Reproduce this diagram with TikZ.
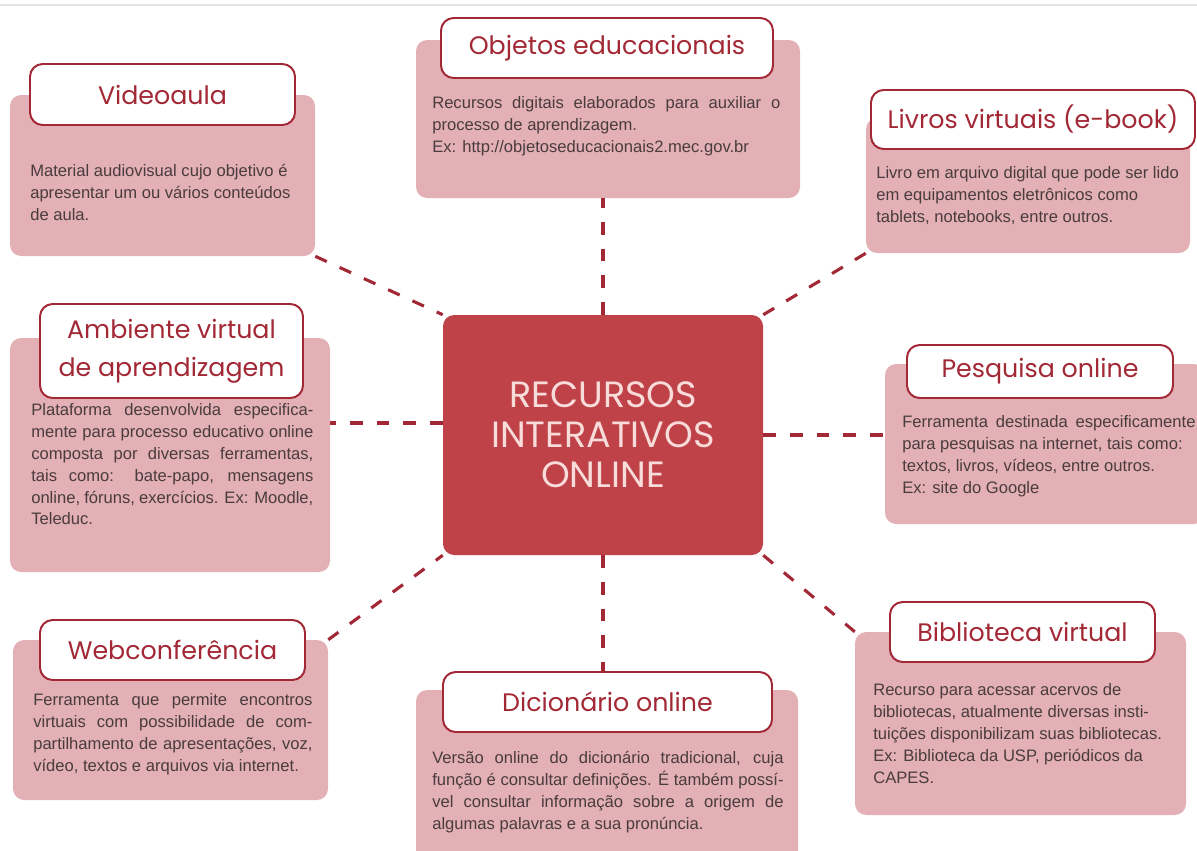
\documentclass[tikz,border=0pt]{standalone}
\usepackage{fontspec}
\setmainfont{Liberation Sans}
\newfontfamily\handfont{Poppins}
\usetikzlibrary{calc, positioning, fit}
\definecolor{cardpink}{HTML}{E2B0B5}
\definecolor{darkred}{HTML}{A32835}
\definecolor{hubred}{HTML}{BF4249}
\definecolor{bodygray}{HTML}{4A3C3E}
\definecolor{hubtext}{HTML}{F8DCDA}
\definecolor{topline}{HTML}{E3E3E3}

\begin{document}
\begin{tikzpicture}
  [x=0.025cm, y=-0.025cm,
   card/.style={rectangle, rounded corners=8pt, fill=cardpink, inner sep=0pt},
   titlebox/.style={rectangle, rounded corners=9pt, draw=darkred, line width=1.4pt,
     fill=white, inner sep=0pt,
     label={[text=darkred, align=center, font=\handfont\fontsize{18}{27}\selectfont]center:#1}},
   blurb/.style={anchor=north west, inner sep=0pt, text=bodygray,
     font=\fontsize{11.8}{15.6}\selectfont},
   hub/.style={rectangle, rounded corners=8pt, fill=hubred, inner sep=0pt,
     label={[text=hubtext, align=center, font=\handfont\fontsize{26}{28.5}\selectfont]center:#1}},
   link/.style={draw=darkred, line width=2.2pt, dash pattern=on 9pt off 10pt}]
  \useasboundingbox (0,0) rectangle (1197,850);
  \fill[white] (0,0) rectangle (1197,850);
  \draw[topline, line width=1pt] (0,5) -- (1197,5);

  % cards %
  \node[card, fit={(10,95) (315,256)}] (vid) {};
  \node[card, fit={(416,40) (800,198)}] (obj) {};
  \node[card, fit={(866,118) (1190,253)}] (liv) {};
  \node[card, fit={(10,338) (330,572)}] (amb) {};
  \node[card, fit={(885,364) (1205,524)}] (pes) {};
  \node[card, fit={(13,640) (328,800)}] (web) {};
  \node[card, fit={(416,690) (798,862)}] (dic) {};
  \node[card, fit={(855,632) (1186,815)}] (bib) {};

  % titles %
  \node[titlebox={Videoaula}, fit={(30,64) (295,125)}] (vidT) {};
  \node[titlebox={Objetos educacionais}, fit={(441,18) (773,78)}] (objT) {};
  \node[titlebox={Livros virtuais (e-book)}, fit={(871,90) (1195,149)}] (livT) {};
  \node[titlebox={Ambiente virtual\\de aprendizagem}, fit={(40,304) (303,398)}] (ambT) {};
  \node[titlebox={Pesquisa online}, fit={(907,345) (1173,398)}] (pesT) {};
  \node[titlebox={Webconferência}, fit={(40,620) (305,680)}] (webT) {};
  \node[titlebox={Dicionário online}, fit={(443,672) (772,732)}] (dicT) {};
  \node[titlebox={Biblioteca virtual}, fit={(890,602) (1155,662)}] (bibT) {};

  % texts %
  \node[blurb, align=left] (vidB) at (30,164)
    {Material audiovisual cujo objetivo é\\apresentar um ou vários conteúdos\\de aula.};
  \node[blurb, text width=8.7cm, align=justify] (objB) at (432,96)
    {Recursos digitais elaborados para auxiliar o\linebreak processo de aprendizagem.\\
     Ex: http://objetoseducacionais2.mec.gov.br};
  \node[blurb, align=left] (livB) at (876,166)
    {Livro em arquivo digital que pode ser lido\\em equipamentos eletrônicos como\\tablets, notebooks, entre outros.};
  \node[blurb, text width=7.05cm, align=justify] (ambB) at (31,403)
    {Plataforma desenvolvida especifica-\linebreak mente para processo educativo online\linebreak
     composta por diversas ferramentas,\linebreak tais como: bate-papo, mensagens\linebreak
     online, fóruns, exercícios. Ex: Moodle,\linebreak Teleduc.};
  \node[blurb, text width=7.33cm, align=justify] (pesB) at (902,415)
    {Ferramenta destinada especificamente\linebreak para pesquisas na internet, tais como:\\
     textos, livros, vídeos, entre outros.\\Ex: site do Google};
  \node[blurb, text width=6.98cm, align=justify] (webB) at (33,693)
    {Ferramenta que permite encontros\linebreak virtuais com possibilidade de com-\linebreak
     partilhamento de apresentações, voz,\linebreak vídeo, textos e arquivos via internet.};
  \node[blurb, text width=8.78cm, align=justify] (dicB) at (432,751)
    {Versão online do dicionário tradicional, cuja\linebreak função é consultar definições. É também possí-\linebreak
     vel consultar informação sobre a origem de\linebreak algumas palavras e a sua pronúncia.};
  \node[blurb, align=left] (bibB) at (873,683)
    {Recurso para acessar acervos de\\bibliotecas, atualmente diversas insti-\\tuições disponibilizam suas bibliotecas.\\
     Ex: Biblioteca da USP, periódicos da\\CAPES.};

  % hub %
  \node[hub={RECURSOS\\INTERATIVOS\\ONLINE}, fit={(443,315) (763,555)}] (hub) {};

  % edges %
  \coordinate (ambport) at ($(hub.west)+(0,-12)$);
  \draw[link] (vid.south east) -- (hub.north west);
  \draw[link] (hub.north) -- (hub.north |- obj.south);
  \draw[link] (hub.north east) -- (liv.south west);
  \draw[link] (ambport) -- (ambport -| amb.east);
  \draw[link] (hub.east) -- (hub.east -| pes.west);
  \draw[link] (web.north east) -- (hub.south west);
  \draw[link] (hub.south) -- (hub.south |- dicT.north);
  \draw[link] (hub.south east) -- (bib.north west);
\end{tikzpicture}
\end{document}
